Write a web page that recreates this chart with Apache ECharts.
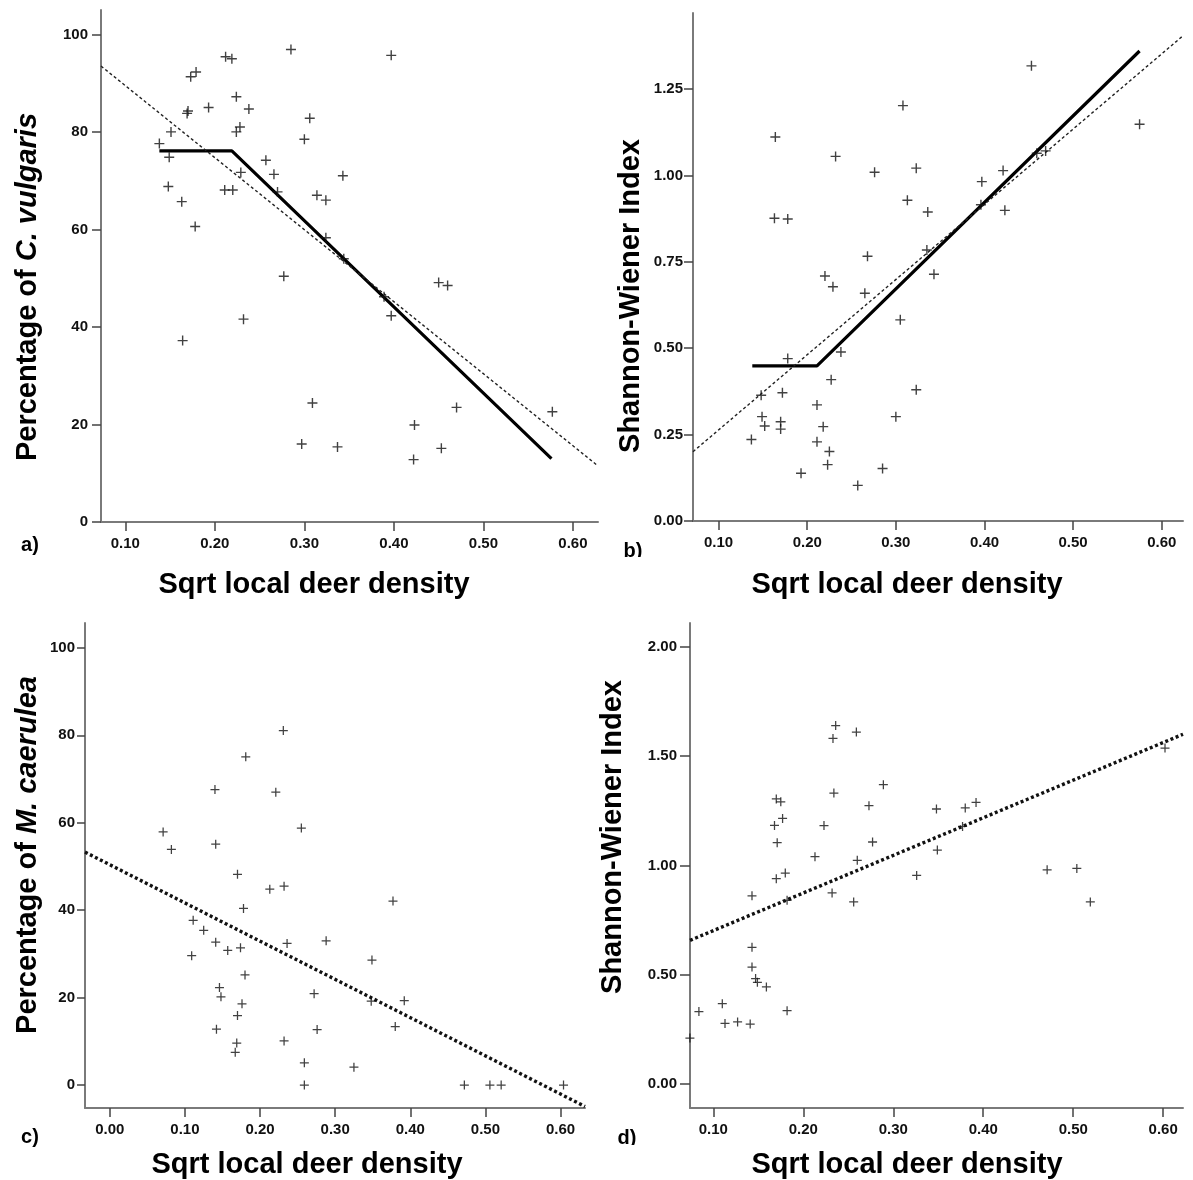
<!DOCTYPE html>
<html><head><meta charset="utf-8">
<script src="https://cdn.jsdelivr.net/npm/echarts@6/dist/echarts.min.js"></script>
<style>html,body{margin:0;padding:0;background:#fff}#c{width:1193px;height:1180px}</style>
</head><body><div id="c"></div><script>
// ---------- Tick labels ----------
const xTicksAB = [0.1, 0.2, 0.3, 0.4, 0.5, 0.6];
const xTicksC = [0, 0.1, 0.2, 0.3, 0.4, 0.5, 0.6];
const xTicksD = [0.1, 0.2, 0.3, 0.4, 0.5, 0.6];
const yTicksPct = [0, 20, 40, 60, 80, 100];
const yTicksB = [0, 0.25, 0.5, 0.75, 1.0, 1.25];
const yTicksD = [0, 0.5, 1.0, 1.5, 2.0];

// ---------- Panel a: % C. vulgaris ----------
const aX = [0.285,0.397,0.212,0.219,0.179,0.173,0.224,0.193,0.238,0.170,0.169,0.306,0.228,0.224,0.151,0.300,0.138,0.149,0.257,0.266,0.343,0.229,0.148,0.211,0.220,0.314,0.324,0.163,0.270,0.178,0.324,0.344,0.277,0.450,0.460,0.389,0.397,0.232,0.164,0.309,0.470,0.577,0.423,0.297,0.337,0.453,0.422];
const aY = [96.9,95.7,95.4,95.0,92.3,91.3,87.2,85.0,84.7,84.3,83.8,82.8,81.0,80.0,80.0,78.5,77.6,74.8,74.2,71.3,71.0,71.7,68.8,68.1,68.1,67.0,66.0,65.7,67.7,60.6,58.3,54.0,50.4,49.1,48.5,46.2,42.3,41.6,37.2,24.4,23.5,22.6,19.9,16.0,15.4,15.1,12.8];
const aSegX = [0.138, 0.219, 0.576];
const aSegY = [76.1, 76.1, 13.0];
const aLinX = [0.0728, 0.628];
const aLinY = [93.5, 11.5];

// ---------- Panel b: Shannon-Wiener ----------
const bX = [0.453,0.308,0.575,0.164,0.232,0.459,0.469,0.323,0.421,0.276,0.397,0.313,0.336,0.423,0.163,0.178,0.396,0.335,0.268,0.343,0.220,0.229,0.265,0.305,0.238,0.178,0.227,0.323,0.172,0.148,0.211,0.149,0.300,0.170,0.152,0.218,0.170,0.137,0.211,0.225,0.223,0.285,0.193,0.257];
const bY = [1.317,1.202,1.148,1.111,1.055,1.064,1.071,1.021,1.014,1.009,0.982,0.928,0.894,0.899,0.876,0.874,0.915,0.784,0.766,0.714,0.709,0.678,0.659,0.582,0.489,0.470,0.409,0.380,0.371,0.364,0.336,0.302,0.302,0.287,0.275,0.273,0.266,0.236,0.229,0.201,0.163,0.152,0.138,0.103];
const bSegX = [0.138, 0.211, 0.575];
const bSegY = [0.449, 0.449, 1.360];
const bLinX = [0.0711, 0.624];
const bLinY = [0.2006, 1.404];

// ---------- Panel c: % M. caerulea ----------
const cX = [0.231,0.181,0.140,0.221,0.255,0.071,0.082,0.141,0.170,0.213,0.232,0.377,0.178,0.111,0.125,0.141,0.288,0.236,0.157,0.174,0.109,0.349,0.180,0.146,0.148,0.272,0.348,0.392,0.176,0.170,0.142,0.276,0.380,0.232,0.169,0.167,0.259,0.325,0.259,0.472,0.506,0.521,0.604];
const cY = [81.1,75.1,67.6,67.0,58.8,57.9,53.9,55.1,48.2,44.8,45.5,42.1,40.4,37.7,35.4,32.7,33.0,32.4,30.8,31.4,29.6,28.6,25.2,22.3,20.2,20.9,19.2,19.3,18.6,15.9,12.8,12.7,13.4,10.1,9.6,7.5,5.1,4.1,0,0,0,0,0];
const cLinX = [-0.033, 0.6326];
const cLinY = [53.3, -4.9];

// ---------- Panel d: Shannon-Wiener ----------
const dX = [0.236,0.259,0.233,0.602,0.289,0.234,0.170,0.175,0.392,0.273,0.380,0.348,0.177,0.168,0.223,0.377,0.171,0.277,0.213,0.349,0.260,0.471,0.504,0.180,0.170,0.326,0.143,0.232,0.519,0.256,0.182,0.143,0.143,0.147,0.149,0.159,0.110,0.084,0.182,0.127,0.113,0.141,0.074];
const dY = [1.640,1.610,1.581,1.537,1.369,1.331,1.304,1.291,1.288,1.273,1.263,1.258,1.215,1.183,1.182,1.178,1.104,1.107,1.040,1.070,1.023,0.980,0.986,0.965,0.939,0.954,0.861,0.874,0.833,0.833,0.840,0.625,0.535,0.482,0.465,0.444,0.367,0.331,0.335,0.284,0.277,0.274,0.21];
const dLinX = [0.0741, 0.622];
const dLinY = [0.657, 1.600];

// ---------- helpers ----------
const zip = (xs, ys) => xs.map((x, i) => [x, ys[i]]);
const CROSS = 'path://M4.3,0H5.7V4.3H10V5.7H5.7V10H4.3V5.7H0V4.3H4.3Z';
const TICKFONT = '"Liberation Sans Narrow", "Arial Narrow", Arial, sans-serif';
const TITLEFONT = '"Liberation Sans", Arial, Helvetica, sans-serif';
const TS = 29;

const panels = [
  {grid:{left:101, top:10, width:497, height:512}, x:[0.0728,0.628], y:[0,105], xt:xTicksAB, yt:yTicksPct, yf:v=>String(Math.round(v)), ylen:9, ymargin:13},
  {grid:{left:693, top:13, width:490, height:508}, x:[0.0711,0.624], y:[0,1.47], xt:xTicksAB, yt:yTicksB, yf:v=>v.toFixed(2), ylen:9, ymargin:10},
  {grid:{left:85, top:623, width:500, height:485}, x:[-0.033,0.6326], y:[-5.24,105.7], xt:xTicksC, yt:yTicksPct, yf:v=>String(Math.round(v)), ylen:8, ymargin:10},
  {grid:{left:690, top:623, width:493, height:485}, x:[0.0741,0.622], y:[-0.11,2.109], xt:xTicksD, yt:yTicksD, yf:v=>v.toFixed(2), ylen:10, ymargin:13}
];

const axisLineStyle = {color:'#7a7a7a', width:2};
const xAxis = panels.map((p, i) => ({
  type:'value', gridIndex:i, min:p.x[0], max:p.x[1],
  splitLine:{show:false},
  axisLine:{show:true, onZero:false, lineStyle:axisLineStyle},
  axisTick:{show:true, length:9, customValues:p.xt, lineStyle:{color:'#444', width:1.5}},
  axisLabel:{customValues:p.xt, formatter:v=>v.toFixed(2), margin:14, color:'#111',
    fontFamily:TICKFONT, fontWeight:'bold', fontSize:15}
}));
const yAxis = panels.map((p, i) => ({
  type:'value', gridIndex:i, min:p.y[0], max:p.y[1],
  splitLine:{show:false},
  axisLine:{show:true, onZero:false, lineStyle:axisLineStyle},
  axisTick:{show:true, length:p.ylen, customValues:p.yt, lineStyle:{color:'#444', width:1.5}},
  axisLabel:{customValues:p.yt, formatter:p.yf, margin:p.ymargin, color:'#111',
    fontFamily:TICKFONT, fontWeight:'bold', fontSize:15}
}));

const scatter = (i, xs, ys, size) => ({
  type:'scatter', xAxisIndex:i, yAxisIndex:i, data:zip(xs, ys),
  symbol:CROSS, symbolSize:size, itemStyle:{color:'#111'}, silent:true, z:3
});
const line = (i, xs, ys, style) => ({
  type:'line', xAxisIndex:i, yAxisIndex:i, data:zip(xs, ys),
  symbol:'none', showSymbol:false, silent:true, clip:true, lineStyle:style, z:2
});

const solid = {color:'#000', width:3.2, type:'solid'};
const thinDash = {color:'#222', width:1.4, type:[3,2.5]};
const dotted = {color:'#111', width:3.4, type:[3,2.6], cap:'butt'};

const series = [
  scatter(0, aX, aY, 10), line(0, aSegX, aSegY, solid), line(0, aLinX, aLinY, thinDash),
  scatter(1, bX, bY, 10), line(1, bSegX, bSegY, solid), line(1, bLinX, bLinY, thinDash),
  scatter(2, cX, cY, 9), line(2, cLinX, cLinY, dotted),
  scatter(3, dX, dY, 9), line(3, dLinX, dLinY, dotted)
];

function txt(x, y, text, size, rot, rich) {
  const st = {text:text, x:0, y:0, align:'center', verticalAlign:'middle',
    font:'bold ' + size + 'px ' + TITLEFONT, fill:'#000'};
  if (rich) st.rich = rich;
  return {type:'text', x:x, y:y, rotation:rot || 0, style:st, z:10};
}
const richPct = {
  n:{font:'bold ' + TS + 'px ' + TITLEFONT, fill:'#000'},
  i:{font:'italic bold ' + TS + 'px ' + TITLEFONT, fill:'#000'}
};

const graphic = [
  txt(314, 585, 'Sqrt local deer density', TS),
  txt(907, 585, 'Sqrt local deer density', TS),
  txt(307, 1165, 'Sqrt local deer density', TS),
  txt(907, 1165, 'Sqrt local deer density', TS),
  txt(28, 287, '{n|Percentage of }{i|C. vulgaris}', TS, Math.PI/2, richPct),
  txt(631, 296, 'Shannon-Wiener Index', TS, Math.PI/2),
  txt(28, 855, '{n|Percentage of }{i|M. caerulea}', TS, Math.PI/2, richPct),
  txt(613, 837, 'Shannon-Wiener Index', TS, Math.PI/2),
  txt(30, 545, 'a)', 20),
  txt(633, 551, 'b)', 20),
  txt(30, 1137, 'c)', 20),
  txt(627, 1138, 'd)', 20),
  {type:'rect', shape:{x:612, y:557, width:45, height:14}, style:{fill:'#fff'}, z:11},
  {type:'rect', shape:{x:608, y:1145, width:45, height:10}, style:{fill:'#fff'}, z:11}
];

const chart = echarts.init(document.getElementById('c'), null, {renderer:'canvas'});
chart.setOption({
  animation:false,
  backgroundColor:'#fff',
  grid: panels.map(p => Object.assign({containLabel:false}, p.grid)),
  xAxis: xAxis, yAxis: yAxis, series: series, graphic: graphic
});
</script></body></html>
